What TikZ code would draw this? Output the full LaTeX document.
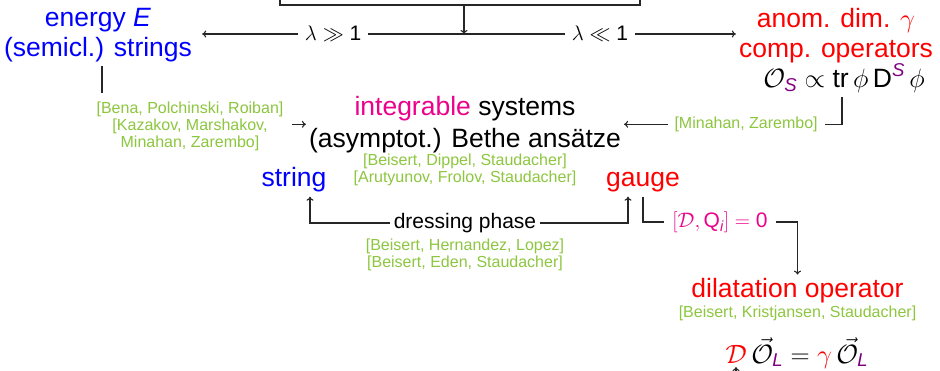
\RequirePackage{fix-cm}
\documentclass[tikz,border=0pt]{standalone}
\usepackage{amsmath}
\usepackage{fontspec}
\setmainfont{Liberation Sans}
\usetikzlibrary{calc,arrows.meta}
\definecolor{citegreen}{RGB}{141,198,63}
\definecolor{hotpink}{RGB}{236,0,140}
\definecolor{deepred}{RGB}{255,0,0}
\definecolor{deepblue}{RGB}{0,0,255}
\definecolor{subpurple}{RGB}{128,0,128}
\newcommand{\sfit}[1]{\text{\itshape #1}}
\begin{document}
\begin{tikzpicture}[x=1pt,y=-1pt,
  >={To[length=4pt,width=7pt]},
  big/.style={font=\fontsize{26.5}{30}\selectfont, inner xsep=3pt, inner ysep=4pt, align=center},
  mid/.style={font=\fontsize{21}{25}\selectfont},
  cite/.style={font=\fontsize{16}{17}\selectfont, text=citegreen, align=center},
  conn/.style={line width=1.1pt, draw=black!85},
  lbl/.style={fill=white, inner xsep=7pt, inner ysep=2pt}]

\useasboundingbox (0,0) rectangle (940,371);
\clip (0,0) rectangle (940,371);

% box above the diagram (only its lower edge is in view)
\node[draw=black!85, line width=1.1pt, minimum width=360pt, minimum height=60pt, inner sep=0pt] (topbox) at (460,-25) {};
\coordinate (split) at (464,34);

% the two regimes
\node[big, text=deepblue, inner xsep=10pt] (energy) at (98,35.3) {energy \textit{E}\\(semicl.) strings};
\node[big, text=deepred] (anom) at (836,35.3) {anom. dim. $\gamma$\\comp. operators};
\node[big, anchor=base] (opform) at (844,88)
  {$\mathcal{O}_{\color{subpurple}\sfit{S}} \propto \text{tr}\,\phi\,\text{D}^{\color{subpurple}\sfit{S}}\,\phi$};

\draw[conn,->] (topbox.south -| split) -- (split);
\draw[conn,->] (split) -- node[mid, lbl] {$\lambda \gg \text{1}$} (split -| energy.east);
\draw[conn,->] (split) -- node[mid, lbl] {$\lambda \ll \text{1}$} (split -| anom.west);

% integrability in the middle
\node[big, font=\fontsize{26.5}{32}\selectfont] (bethe) at (465,124.3)
  {\textcolor{hotpink}{integrable} systems\\(asymptot.) Bethe ansätze};
\node[cite] (bethecite) at (465,169.4)
  {[Beisert, Dippel, Staudacher]\\{[}Arutyunov, Frolov, Staudacher]};

\draw[conn,->] ([xshift=4pt]energy.south) |- (bethe.west);
\node[cite, fill=white, inner xsep=9pt, inner ysep=8pt] (leftcite) at (190,125.9)
  {[Bena, Polchinski, Roiban]\\{[}Kazakov, Marshakov,\\Minahan, Zarembo]};

\draw[conn,->] ([xshift=-2pt]opform.south) |- node[pos=0.72, cite, lbl] {[Minahan, Zarembo]} (bethe.east);

% string and gauge side
\node[big, text=deepblue, anchor=base] (string) at (294,187) {string};
\node[big, text=deepred, anchor=base] (gauge) at (643,187) {gauge};

\node[mid, inner xsep=4pt] (dress) at (465,223) {dressing phase};
\draw[conn,->] (dress.west) -| ([xshift=16pt]string.south);
\draw[conn,->] (dress.east) -| ([xshift=-15pt]gauge.south);
\node[cite] (dresscite) at (465,254.9)
  {[Beisert, Hernandez, Lopez]\\{[}Beisert, Eden, Staudacher]};

% dilatation operator
\node[mid, text=hotpink, inner xsep=8pt] (commute) at (720,222)
  {$[\mathcal{D},\text{Q}_{\sfit{i}}] = \text{0}$};
\node[big, text=deepred, anchor=base] (dil) at (797.5,298) {dilatation operator};
\node[cite, anchor=base] (dilcite) at (797.5,318) {[Beisert, Kristjansen, Staudacher]};
\draw[conn] (gauge.south) |- (commute.west);
\draw[conn,->] (commute.east) -| (dil.north);

\node[big, anchor=base] (eq) at (797,363)
  {${\color{deepred}\mathcal{D}}\,\vec{\mathcal{O}}_{\color{subpurple}\sfit{L}} = {\color{deepred}\gamma}\,\vec{\mathcal{O}}_{\color{subpurple}\sfit{L}}$};
\coordinate (feed) at (736,400);
\draw[conn,->] (feed) -- ($(feed |- eq.base)+(0,4)$);
\end{tikzpicture}
\end{document}
